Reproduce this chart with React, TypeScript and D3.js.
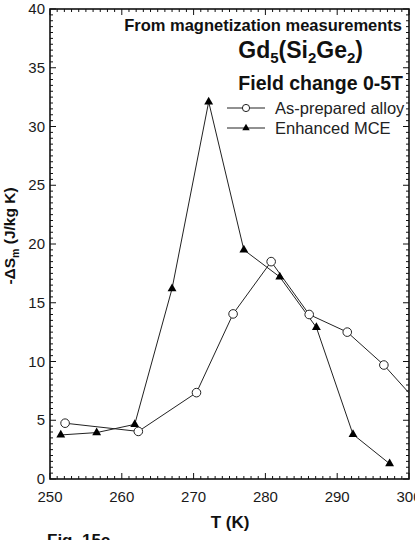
import * as d3 from "d3";
import { useEffect, useRef } from "react";

// As-prepared alloy (open circles)
const tempAsPrepared = [252.1, 262.3, 270.4, 275.5, 280.8, 286.1, 291.4, 296.5, 301.8];
const dsAsPrepared = [4.75, 4.05, 7.35, 14.05, 18.5, 14.0, 12.5, 9.7, 6.1];

// Enhanced MCE (filled triangles)
const tempEnhanced = [251.5, 256.5, 261.8, 267.0, 272.1, 277.0, 282.0, 287.1, 292.2, 297.3];
const dsEnhanced = [3.75, 3.95, 4.65, 16.2, 32.1, 19.5, 17.2, 12.9, 3.8, 1.3];

const xTicks = [250, 260, 270, 280, 290, 300];
const yTicks = [0, 5, 10, 15, 20, 25, 30, 35, 40];

const W = 415, H = 540;
const FONT = "'Liberation Sans', Arial, Helvetica, sans-serif";

const App = () => {
  const ref = useRef<SVGSVGElement>(null);

  useEffect(() => {
    const svg = d3.select(ref.current);
    svg.selectAll("*").remove();

    const left = 50, right = 409, top = 9, bottom = 479;

    const x = d3.scaleLinear().domain([250, 300]).range([left, right]);
    const y = d3.scaleLinear().domain([0, 40]).range([bottom, top]);

    svg.append("defs").append("clipPath").attr("id", "plot-clip")
      .append("rect")
      .attr("x", left).attr("y", top)
      .attr("width", right - left).attr("height", bottom - top);

    // minor / major ticks on all four sides, pointing inward
    const xMinor = d3.range(250, 301, 1);
    const yMinor = d3.range(0, 40.01, 0.5);
    const ticks = svg.append("g").attr("stroke", "#111").attr("stroke-width", 1);

    xMinor.forEach(v => {
      const len = v % 10 === 0 ? 6 : 3;
      ticks.append("line").attr("x1", x(v)).attr("x2", x(v)).attr("y1", bottom).attr("y2", bottom - len);
      ticks.append("line").attr("x1", x(v)).attr("x2", x(v)).attr("y1", top).attr("y2", top + len);
    });
    yMinor.forEach(v => {
      const len = v % 5 === 0 ? 6 : 3;
      ticks.append("line").attr("x1", left).attr("x2", left + len).attr("y1", y(v)).attr("y2", y(v));
      ticks.append("line").attr("x1", right).attr("x2", right - len).attr("y1", y(v)).attr("y2", y(v));
    });

    // frame
    svg.append("rect")
      .attr("x", left).attr("y", top)
      .attr("width", right - left).attr("height", bottom - top)
      .attr("fill", "none").attr("stroke", "#111").attr("stroke-width", 1.6);

    // tick labels
    svg.append("g").selectAll("text").data(xTicks).join("text")
      .attr("x", d => x(d)).attr("y", 502)
      .attr("text-anchor", "middle")
      .attr("font-family", FONT).attr("font-size", 15).attr("fill", "#1a1a1a")
      .text(d => d);

    svg.append("g").selectAll("text").data(yTicks).join("text")
      .attr("x", 45).attr("y", d => y(d) + 5)
      .attr("text-anchor", "end")
      .attr("font-family", FONT).attr("font-size", 15).attr("fill", "#1a1a1a")
      .text(d => d);

    // data lines
    const plot = svg.append("g").attr("clip-path", "url(#plot-clip)");
    const line = d3.line<[number, number]>();

    const asPts = tempAsPrepared.map((t, i) => [x(t), y(dsAsPrepared[i])] as [number, number]);
    const enPts = tempEnhanced.map((t, i) => [x(t), y(dsEnhanced[i])] as [number, number]);

    plot.append("path").attr("d", line(enPts))
      .attr("fill", "none").attr("stroke", "#222").attr("stroke-width", 1);
    plot.append("path").attr("d", line(asPts))
      .attr("fill", "none").attr("stroke", "#222").attr("stroke-width", 1);

    const tri = d3.symbol().type(d3.symbolTriangle);

    plot.selectAll("path.tri").data(enPts).join("path")
      .attr("class", "tri")
      .attr("transform", d => `translate(${d[0]},${d[1]})`)
      .attr("d", tri.size(34)())
      .attr("fill", "#000");

    plot.selectAll("circle.open").data(asPts).join("circle")
      .attr("class", "open")
      .attr("cx", d => d[0]).attr("cy", d => d[1]).attr("r", 4.3)
      .attr("fill", "#fff").attr("stroke", "#222").attr("stroke-width", 1);

    // annotations
    const bold = (sel: any) => sel.attr("font-family", FONT).attr("font-weight", "bold").attr("fill", "#111");

    bold(svg.append("text").attr("x", 402).attr("y", 31).attr("text-anchor", "end").attr("font-size", 16.5))
      .text("From magnetization measurements");

    const gd = bold(svg.append("text").attr("x", 363).attr("y", 58).attr("text-anchor", "end").attr("font-size", 23));
    gd.append("tspan").text("Gd");
    gd.append("tspan").attr("font-size", 15).attr("dy", 5).text("5");
    gd.append("tspan").attr("dy", -5).text("(Si");
    gd.append("tspan").attr("font-size", 15).attr("dy", 5).text("2");
    gd.append("tspan").attr("dy", -5).text("Ge");
    gd.append("tspan").attr("font-size", 15).attr("dy", 5).text("2");
    gd.append("tspan").attr("dy", -5).text(")");

    bold(svg.append("text").attr("x", 403).attr("y", 90).attr("text-anchor", "end").attr("font-size", 19.5))
      .text("Field change 0-5T");

    // legend
    const legend = svg.append("g");
    legend.append("line").attr("x1", 227).attr("x2", 265).attr("y1", 108).attr("y2", 108)
      .attr("stroke", "#222").attr("stroke-width", 1);
    legend.append("circle").attr("cx", 246).attr("cy", 108).attr("r", 3.6)
      .attr("fill", "#fff").attr("stroke", "#222").attr("stroke-width", 1);
    legend.append("text").attr("x", 275).attr("y", 114)
      .attr("font-family", FONT).attr("font-size", 16.5).attr("fill", "#222")
      .text("As-prepared alloy");

    legend.append("line").attr("x1", 227).attr("x2", 265).attr("y1", 128).attr("y2", 128)
      .attr("stroke", "#222").attr("stroke-width", 1);
    legend.append("path").attr("transform", "translate(246,128)")
      .attr("d", tri.size(24)()).attr("fill", "#000");
    legend.append("text").attr("x", 275).attr("y", 134)
      .attr("font-family", FONT).attr("font-size", 16.5).attr("fill", "#222")
      .text("Enhanced MCE");

    // axis titles
    bold(svg.append("text").attr("x", 230).attr("y", 528).attr("text-anchor", "middle").attr("font-size", 17))
      .text("T (K)");

    const yl = bold(svg.append("text")
      .attr("transform", "translate(15,236) rotate(-90)")
      .attr("text-anchor", "middle").attr("font-size", 15.5));
    yl.append("tspan").text("-\u0394S");
    yl.append("tspan").attr("font-size", 10.5).attr("dy", 4).text("m");
    yl.append("tspan").attr("dy", -4).text(" (J/kg K)");

    bold(svg.append("text").attr("x", 47).attr("y", 546).attr("font-size", 17))
      .text("Fig. 15c");
  }, []);

  return (
    <svg
      ref={ref}
      width={W}
      height={H}
      style={{ position: "absolute", left: 0, top: 0, background: "#fff" }}
    />
  );
};

export default App;
